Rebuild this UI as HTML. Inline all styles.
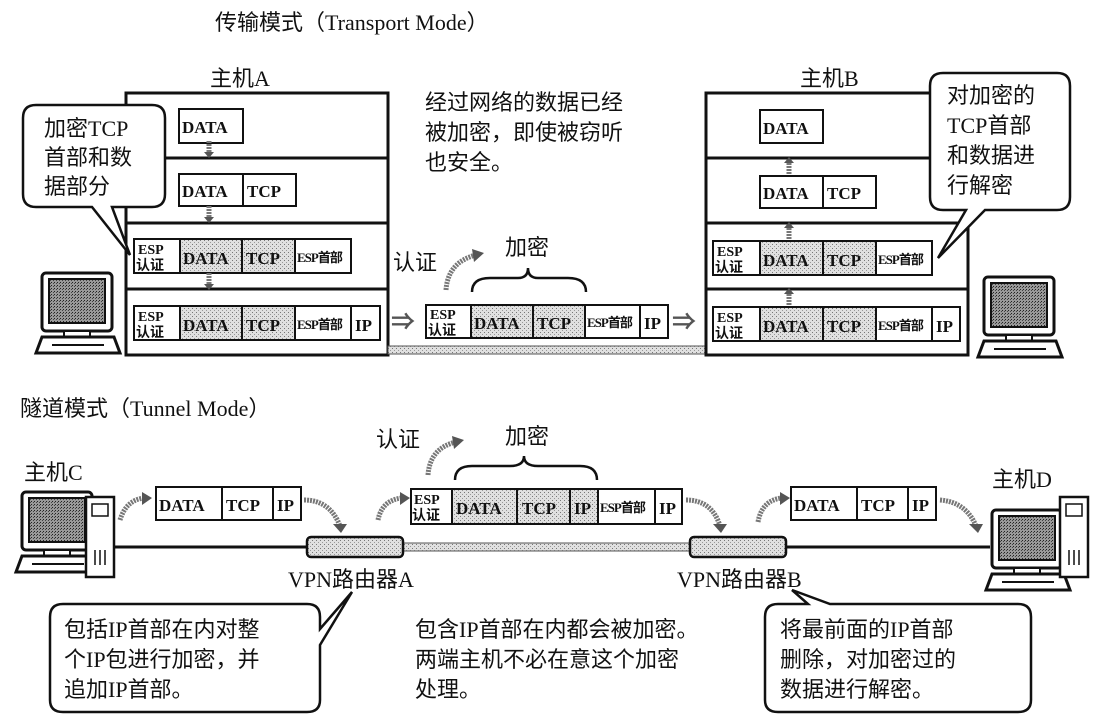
<!DOCTYPE html>
<html><head><meta charset="utf-8"><style>
html,body{margin:0;padding:0;background:#fff;}
svg{display:block;}
text{font-family:"Liberation Serif","Noto Sans CJK SC",serif;fill:#111;}
.t{font-size:22px;}
.p{font-size:17px;font-weight:bold;}
.s{font-size:14px;font-weight:bold;}
.e{font-size:13px;font-weight:bold;letter-spacing:-1px;}
</style></head><body>
<svg width="1098" height="726" viewBox="0 0 1098 726" xmlns="http://www.w3.org/2000/svg">
<defs>
<pattern id="dots" width="4" height="4" patternUnits="userSpaceOnUse"><rect width="4" height="4" fill="#e0e0e0"/><rect width="1" height="1" fill="#777"/><rect x="2" y="2" width="1" height="1" fill="#999"/></pattern>
<pattern id="scr" width="3" height="3" patternUnits="userSpaceOnUse"><rect width="3" height="3" fill="#999"/><rect width="1" height="1" fill="#222"/><rect x="2" y="1" width="1" height="1" fill="#444"/></pattern>
<g id="pc">
<rect x="0" y="0" width="70" height="58" rx="4" fill="#fff" stroke="#111" stroke-width="3"/>
<rect x="7" y="6" width="56" height="44" fill="url(#scr)" stroke="#111" stroke-width="2"/>
<rect x="22" y="58" width="26" height="6" fill="#fff" stroke="#111" stroke-width="2"/>
<polygon points="-6,80 78,80 72,64 0,64" fill="#fff" stroke="#111" stroke-width="3"/>
<line x1="10" y1="72" x2="62" y2="72" stroke="#111" stroke-width="2"/>
</g>
<g id="ar"><path d="M0,-4 L0,8" stroke="#777" stroke-width="5" stroke-dasharray="2 1"/><polygon points="-5,7 5,7 0,13" fill="#555"/></g>
</defs>

<text class="t" x="215" y="30">传输模式（Transport Mode）</text>
<text class="t" x="210" y="86">主机A</text>
<text class="t" x="800" y="86">主机B</text>

<rect x="126" y="93" width="262" height="262" fill="none" stroke="#111" stroke-width="3"/>
<line x1="126" y1="158" x2="388" y2="158" stroke="#111" stroke-width="3"/>
<line x1="126" y1="223" x2="388" y2="223" stroke="#111" stroke-width="3"/>
<line x1="126" y1="289" x2="388" y2="289" stroke="#111" stroke-width="3"/>
<g stroke="#111" stroke-width="2" fill="#fff">
<rect x="179" y="109" width="64" height="34"/>
<rect x="179" y="174" width="64" height="32"/><rect x="243" y="174" width="53" height="32"/>
<rect x="134" y="239" width="46" height="34"/><rect x="180" y="239" width="62" height="34" fill="url(#dots)"/><rect x="242" y="239" width="53" height="34" fill="url(#dots)"/><rect x="295" y="239" width="56" height="34"/>
<rect x="134" y="306" width="46" height="34"/><rect x="180" y="306" width="62" height="34" fill="url(#dots)"/><rect x="242" y="306" width="53" height="34" fill="url(#dots)"/><rect x="295" y="306" width="56" height="34"/><rect x="351" y="306" width="29" height="34"/>
</g>
<text class="p" x="182" y="133">DATA</text>
<text class="p" x="182" y="197">DATA</text><text class="p" x="247" y="197">TCP</text>
<text class="s" x="138" y="254">ESP</text><text class="s" x="136" y="270">认证</text><text class="p" x="183" y="264">DATA</text><text class="p" x="246" y="264">TCP</text><text class="e" x="297" y="262">ESP首部</text>
<text class="s" x="138" y="321">ESP</text><text class="s" x="136" y="337">认证</text><text class="p" x="183" y="331">DATA</text><text class="p" x="246" y="331">TCP</text><text class="e" x="297" y="329">ESP首部</text><text class="p" x="355" y="331">IP</text>
<use href="#ar" x="209" y="145"/><use href="#ar" x="209" y="210"/><use href="#ar" x="209" y="277"/>

<path d="M36,105 H152 Q165,105 165,118 V194 Q165,207 152,207 H112 L130,255 L92,207 H36 Q23,207 23,194 V118 Q23,105 36,105 Z" fill="#fff" stroke="#111" stroke-width="2.5"/>
<text class="t" x="44" y="136">加密TCP</text>
<text class="t" x="44" y="165">首部和数</text>
<text class="t" x="44" y="194">据部分</text>
<use href="#pc" x="42" y="273"/>

<text class="t" x="425" y="110">经过网络的数据已经</text>
<text class="t" x="425" y="140">被加密，即使被窃听</text>
<text class="t" x="425" y="170">也安全。</text>
<text class="t" x="393" y="270">认证</text>
<path d="M446,290 Q448,262 476,255" fill="none" stroke="#777" stroke-width="5" stroke-dasharray="2 1"/><polygon points="472,249 484,253 474,262" fill="#555"/>
<text class="t" x="505" y="255">加密</text>
<path d="M472,292 Q472,278 490,278 H518 Q528,278 528,268 Q528,278 538,278 H568 Q586,278 586,292" fill="none" stroke="#111" stroke-width="2.5"/>
<g stroke="#111" stroke-width="2" fill="#fff">
<rect x="426" y="305" width="45" height="33"/><rect x="471" y="305" width="62" height="33" fill="url(#dots)"/><rect x="533" y="305" width="52" height="33" fill="url(#dots)"/><rect x="585" y="305" width="55" height="33"/><rect x="640" y="305" width="28" height="33"/>
</g>
<text class="s" x="430" y="319">ESP</text><text class="s" x="428" y="335">认证</text><text class="p" x="474" y="329">DATA</text><text class="p" x="537" y="329">TCP</text><text class="e" x="587" y="327">ESP首部</text><text class="p" x="644" y="329">IP</text>
<text x="391" y="330" style="font-size:24px;fill:#555;font-weight:bold">⇒</text><text x="672" y="330" style="font-size:24px;fill:#555;font-weight:bold">⇒</text>
<rect x="388" y="346" width="318" height="8" fill="url(#dots)" stroke="#555" stroke-width="1"/>

<rect x="706" y="93" width="262" height="262" fill="none" stroke="#111" stroke-width="3"/>
<line x1="706" y1="158" x2="968" y2="158" stroke="#111" stroke-width="3"/>
<line x1="706" y1="223" x2="968" y2="223" stroke="#111" stroke-width="3"/>
<line x1="706" y1="289" x2="968" y2="289" stroke="#111" stroke-width="3"/>
<g stroke="#111" stroke-width="2" fill="#fff">
<rect x="760" y="110" width="63" height="33"/>
<rect x="760" y="176" width="63" height="32"/><rect x="823" y="176" width="53" height="32"/>
<rect x="713" y="241" width="47" height="34"/><rect x="760" y="241" width="63" height="34" fill="url(#dots)"/><rect x="823" y="241" width="53" height="34" fill="url(#dots)"/><rect x="876" y="241" width="56" height="34"/>
<rect x="713" y="307" width="47" height="34"/><rect x="760" y="307" width="63" height="34" fill="url(#dots)"/><rect x="823" y="307" width="53" height="34" fill="url(#dots)"/><rect x="876" y="307" width="56" height="34"/><rect x="932" y="307" width="28" height="34"/>
</g>
<text class="p" x="763" y="134">DATA</text>
<text class="p" x="763" y="199">DATA</text><text class="p" x="827" y="199">TCP</text>
<text class="s" x="717" y="256">ESP</text><text class="s" x="715" y="272">认证</text><text class="p" x="763" y="266">DATA</text><text class="p" x="827" y="266">TCP</text><text class="e" x="878" y="264">ESP首部</text>
<text class="s" x="717" y="322">ESP</text><text class="s" x="715" y="338">认证</text><text class="p" x="763" y="332">DATA</text><text class="p" x="827" y="332">TCP</text><text class="e" x="878" y="330">ESP首部</text><text class="p" x="936" y="332">IP</text>
<g transform="rotate(180 789 158)"><use href="#ar" x="789" y="146"/></g>
<g transform="rotate(180 789 223)"><use href="#ar" x="789" y="211"/></g>
<g transform="rotate(180 789 289)"><use href="#ar" x="789" y="277"/></g>
<path d="M943,73 H1057 Q1070,73 1070,86 V197 Q1070,210 1057,210 H985 L938,258 L966,210 H943 Q930,210 930,197 V86 Q930,73 943,73 Z" fill="#fff" stroke="#111" stroke-width="2.5"/>
<text class="t" x="947" y="103">对加密的</text>
<text class="t" x="947" y="133">TCP首部</text>
<text class="t" x="947" y="163">和数据进</text>
<text class="t" x="947" y="193">行解密</text>
<use href="#pc" x="984" y="277"/>

<text class="t" x="20" y="416">隧道模式（Tunnel Mode）</text>
<text class="t" x="24" y="480">主机C</text>
<text class="t" x="992" y="487">主机D</text>
<line x1="110" y1="547" x2="990" y2="547" stroke="#111" stroke-width="3"/>
<rect x="400" y="543" width="295" height="8" fill="url(#dots)" stroke="#555" stroke-width="1"/>
<use href="#pc" x="22" y="492"/>
<rect x="86" y="497" width="28" height="80" fill="#fff" stroke="#111" stroke-width="2.5"/>
<rect x="92" y="504" width="16" height="12" fill="#fff" stroke="#111" stroke-width="1.5"/>
<line x1="95" y1="550" x2="95" y2="565" stroke="#111" stroke-width="1.5"/><line x1="100" y1="550" x2="100" y2="565" stroke="#111" stroke-width="1.5"/><line x1="105" y1="550" x2="105" y2="565" stroke="#111" stroke-width="1.5"/>
<use href="#pc" x="992" y="510"/>
<rect x="1060" y="497" width="28" height="80" fill="#fff" stroke="#111" stroke-width="2.5"/>
<rect x="1066" y="504" width="16" height="12" fill="#fff" stroke="#111" stroke-width="1.5"/>
<line x1="1069" y1="550" x2="1069" y2="565" stroke="#111" stroke-width="1.5"/><line x1="1074" y1="550" x2="1074" y2="565" stroke="#111" stroke-width="1.5"/><line x1="1079" y1="550" x2="1079" y2="565" stroke="#111" stroke-width="1.5"/>
<rect x="307" y="537" width="96" height="20" rx="4" fill="url(#dots)" stroke="#111" stroke-width="2.5"/>
<rect x="690" y="537" width="96" height="20" rx="4" fill="url(#dots)" stroke="#111" stroke-width="2.5"/>
<text class="t" x="288" y="587">VPN路由器A</text>
<text class="t" x="677" y="587">VPN路由器B</text>
<g stroke="#111" stroke-width="2" fill="#fff">
<rect x="156" y="487" width="66" height="33"/><rect x="222" y="487" width="51" height="33"/><rect x="273" y="487" width="28" height="33"/>
<rect x="411" y="489" width="41" height="35"/><rect x="452" y="489" width="65" height="35" fill="url(#dots)"/><rect x="517" y="489" width="53" height="35" fill="url(#dots)"/><rect x="570" y="489" width="28" height="35" fill="url(#dots)"/><rect x="598" y="489" width="57" height="35"/><rect x="655" y="489" width="27" height="35"/>
<rect x="791" y="487" width="66" height="33"/><rect x="857" y="487" width="51" height="33"/><rect x="908" y="487" width="28" height="33"/>
</g>
<text class="p" x="159" y="511">DATA</text><text class="p" x="226" y="511">TCP</text><text class="p" x="277" y="511">IP</text>
<text class="s" x="414" y="504">ESP</text><text class="s" x="412" y="520">认证</text><text class="p" x="456" y="514">DATA</text><text class="p" x="522" y="514">TCP</text><text class="p" x="574" y="514">IP</text><text class="e" x="600" y="512">ESP首部</text><text class="p" x="659" y="514">IP</text>
<text class="p" x="794" y="511">DATA</text><text class="p" x="861" y="511">TCP</text><text class="p" x="912" y="511">IP</text>
<text class="t" x="376" y="447">认证</text>
<path d="M428,475 Q430,448 456,442" fill="none" stroke="#777" stroke-width="5" stroke-dasharray="2 1"/><polygon points="452,436 464,440 454,449" fill="#555"/>
<text class="t" x="505" y="444">加密</text>
<path d="M455,480 Q455,466 472,466 H510 Q524,466 524,456 Q524,466 538,466 H580 Q597,466 597,480" fill="none" stroke="#111" stroke-width="2.5"/>
<g fill="none" stroke="#777" stroke-width="5" stroke-dasharray="2 1">
<path d="M120,520 Q126,500 144,498"/><path d="M304,500 Q330,500 340,526"/><path d="M378,520 Q382,500 402,498"/><path d="M686,500 Q712,500 720,526"/><path d="M758,522 Q762,500 782,498"/><path d="M940,500 Q966,502 976,526"/>
</g>
<g fill="#555">
<polygon points="142,492 152,498 142,505"/><polygon points="333,524 347,524 341,533"/><polygon points="400,492 410,498 400,505"/><polygon points="713,524 727,524 721,533"/><polygon points="780,492 790,498 780,505"/><polygon points="969,524 983,524 978,533"/>
</g>
<path d="M63,604 H307 Q320,604 320,617 V629 L352,592 L320,645 V700 Q320,712 307,712 H63 Q50,712 50,700 V617 Q50,604 63,604 Z" fill="#fff" stroke="#111" stroke-width="2.5"/>
<text class="t" x="64" y="637">包括IP首部在内对整</text>
<text class="t" x="64" y="667">个IP包进行加密，并</text>
<text class="t" x="64" y="697">追加IP首部。</text>
<text class="t" x="415" y="637">包含IP首部在内都会被加密。</text>
<text class="t" x="415" y="667">两端主机不必在意这个加密</text>
<text class="t" x="415" y="697">处理。</text>
<path d="M778,604 H808 L792,590 L830,604 H1018 Q1031,604 1031,617 V700 Q1031,712 1018,712 H778 Q765,712 765,700 V617 Q765,604 778,604 Z" fill="#fff" stroke="#111" stroke-width="2.5"/>
<text class="t" x="780" y="637">将最前面的IP首部</text>
<text class="t" x="780" y="667">删除，对加密过的</text>
<text class="t" x="780" y="697">数据进行解密。</text>
</svg>
</body></html>
